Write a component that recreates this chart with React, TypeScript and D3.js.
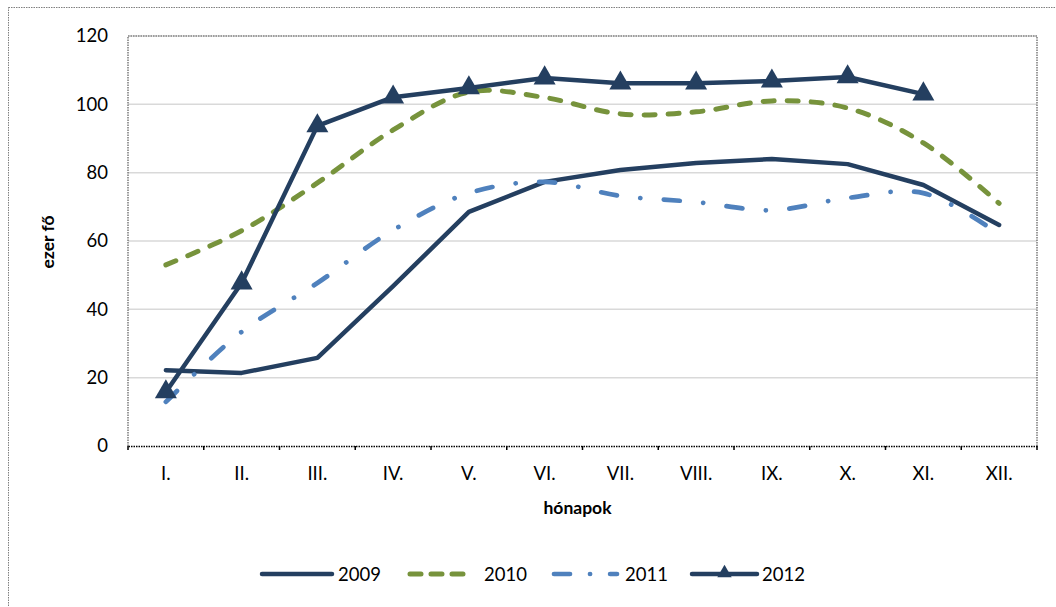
import { useEffect, useRef } from "react";
import * as d3 from "d3";

const months = ["I.", "II.", "III.", "IV.", "V.", "VI.", "VII.", "VIII.", "IX.", "X.", "XI.", "XII."];
const yTicks = [0, 20, 40, 60, 80, 100, 120];

const values2009 = [22.2, 21.4, 25.8, 46.8, 68.5, 77.3, 80.8, 82.8, 84, 82.5, 76.4, 64.7];
const values2010 = [53, 63, 77, 92.5, 103.6, 102, 97.2, 97.8, 101, 98.9, 88.7, 71];
const values2011 = [12.9, 33.4, 47.7, 63.2, 74, 77.3, 73.2, 71.4, 69, 72.6, 74, 62];
const values2012 = [15.8, 47.7, 93.7, 102.1, 104.8, 107.7, 106.2, 106.2, 106.8, 108, 103];

const seriesNames = ["2009", "2010", "2011", "2012"];

export default function App() {
  const svgRef = useRef(null);

  useEffect(() => {
    const width = 1056;
    const height = 607;
    const font = "Lato, 'Open Sans', sans-serif";
    const margin = { top: 36, right: 19, bottom: 161, left: 128 };

    const svg = d3.select(svgRef.current);
    svg.selectAll("*").remove();
    svg.attr("width", width).attr("height", height);

    svg.append("rect").attr("width", width).attr("height", height).attr("fill", "#fff");

    // outer chart border (dotted)
    svg
      .append("rect")
      .attr("x", 8.5)
      .attr("y", 7.5)
      .attr("width", width + 20)
      .attr("height", height + 20)
      .attr("fill", "none")
      .attr("stroke", "#7f7f7f")
      .attr("stroke-width", 1)
      .attr("stroke-dasharray", "1.5,1");

    const x = d3
      .scaleBand()
      .domain(months)
      .range([margin.left, width - margin.right]);

    const y = d3
      .scaleLinear()
      .domain([0, 120])
      .range([height - margin.bottom, margin.top]);

    // gridlines
    svg
      .append("g")
      .selectAll("line")
      .data(yTicks.filter(d => d > 0))
      .join("line")
      .attr("x1", margin.left)
      .attr("x2", width - margin.right)
      .attr("y1", d => y(d))
      .attr("y2", d => y(d))
      .attr("stroke", "#d9d9d9")
      .attr("stroke-width", 1.5);

    // plot area border
    svg
      .append("path")
      .attr(
        "d",
        `M${margin.left},${y(0)}V${margin.top}H${width - margin.right}V${y(0)}`
      )
      .attr("fill", "none")
      .attr("stroke", "#595959")
      .attr("stroke-width", 1.2)
      .attr("stroke-dasharray", "1.5,1");

    // y axis labels
    const yAxis = svg
      .append("g")
      .attr("transform", `translate(${margin.left},0)`)
      .call(d3.axisLeft(y).tickValues(yTicks).tickSize(0).tickPadding(20));
    yAxis.select(".domain").remove();
    yAxis
      .selectAll("text")
      .style("font-family", font)
      .style("font-size", "18.5px")
      .attr("fill", "#000");

    // x axis
    const xAxis = svg
      .append("g")
      .attr("transform", `translate(0,${y(0)})`)
      .call(d3.axisBottom(x).tickSize(0).tickPadding(21));
    xAxis
      .select(".domain")
      .attr("stroke", "#000")
      .attr("stroke-width", 1.5)
      .attr("stroke-dasharray", "1.5,1");
    xAxis
      .selectAll("text")
      .style("font-family", font)
      .style("font-size", "18.5px")
      .attr("fill", "#000");

    // x tick marks at category boundaries
    const bounds = months.map(m => x(m)).concat([width - margin.right]);
    svg
      .append("g")
      .selectAll("line")
      .data(bounds)
      .join("line")
      .attr("x1", d => d)
      .attr("x2", d => d)
      .attr("y1", y(0))
      .attr("y2", y(0) + 4)
      .attr("stroke", "#000")
      .attr("stroke-width", 1.5);

    // axis titles
    svg
      .append("text")
      .attr("transform", `translate(54,${(margin.top + y(0)) / 2 + 1}) rotate(-90)`)
      .attr("text-anchor", "middle")
      .style("font-family", font)
      .style("font-size", "17.5px")
      .style("font-weight", "bold")
      .text("ezer fő");

    svg
      .append("text")
      .attr("x", (margin.left + width - margin.right) / 2 - 5)
      .attr("y", 514)
      .attr("text-anchor", "middle")
      .style("font-family", font)
      .style("font-size", "17.5px")
      .style("font-weight", "bold")
      .text("hónapok");

    const cx = (i: number) => (x(months[i]) as number) + x.bandwidth() / 2;

    const series = [
      { name: seriesNames[0], data: values2009, color: "#243F60", dash: null, width: 4.5, curve: d3.curveLinear, marker: false },
      { name: seriesNames[1], data: values2010, color: "#77933C", dash: "11,13", width: 5, curve: d3.curveCatmullRom, marker: false },
      { name: seriesNames[2], data: values2011, color: "#4F81BD", dash: "16,23.5,0.1,23.5", width: 4.7, curve: d3.curveCatmullRom, marker: false },
      { name: seriesNames[3], data: values2012, color: "#243F60", dash: null, width: 4.5, curve: d3.curveLinear, marker: true },
    ];

    const tri = d3.symbol().type(d3.symbolTriangle).size(210);

    series.forEach(s => {
      const line = d3
        .line<number>()
        .x((_, i) => cx(i))
        .y(d => y(d))
        .curve(s.curve);

      svg
        .append("path")
        .datum(s.data)
        .attr("fill", "none")
        .attr("stroke", s.color)
        .attr("stroke-width", s.width)
        .attr("stroke-linecap", "round")
        .attr("stroke-linejoin", "round")
        .attr("stroke-dasharray", s.dash)
        .attr("d", line);

      if (s.marker) {
        svg
          .append("g")
          .selectAll("path")
          .data(s.data)
          .join("path")
          .attr("transform", (d, i) => `translate(${cx(i)},${y(d)})`)
          .attr("d", tri)
          .attr("fill", s.color);
      }
    });

    // legend
    const legendY = 574;
    const legendItems = [
      { x1: 262, x2: 332, tx: 338 },
      { x1: 410, x2: 470, tx: 484 },
      { x1: 554, x2: 617, tx: 625 },
      { x1: 692, x2: 757, tx: 762 },
    ];
    const legendDash = [null, "11,10", "16,20,0.1,20", null];

    series.forEach((s, i) => {
      const it = legendItems[i];
      svg
        .append("line")
        .attr("x1", it.x1)
        .attr("x2", it.x2)
        .attr("y1", legendY)
        .attr("y2", legendY)
        .attr("stroke", s.color)
        .attr("stroke-width", s.width)
        .attr("stroke-linecap", "round")
        .attr("stroke-dasharray", legendDash[i]);
      if (s.marker) {
        svg
          .append("path")
          .attr("transform", `translate(${(it.x1 + it.x2) / 2},${legendY - 1})`)
          .attr("d", d3.symbol().type(d3.symbolTriangle).size(90))
          .attr("fill", s.color);
      }
      svg
        .append("text")
        .attr("x", it.tx)
        .attr("y", legendY + 7)
        .style("font-family", font)
        .style("font-size", "18.5px")
        .text(s.name);
    });
  }, []);

  return (
    <div style={{ position: "fixed", left: 0, top: 0 }}>
      <svg ref={svgRef} style={{ display: "block" }}></svg>
    </div>
  );
}
